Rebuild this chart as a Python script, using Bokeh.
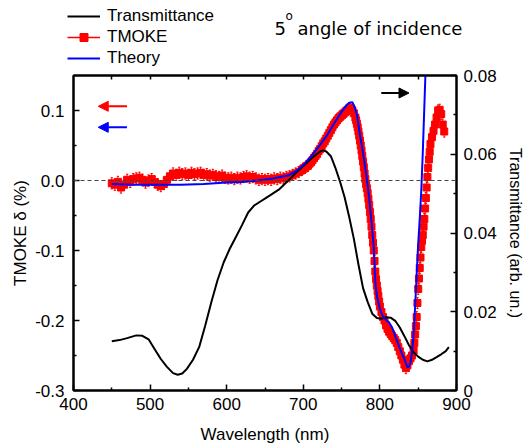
from bokeh.plotting import figure
from bokeh.layouts import column
from bokeh.models import (Range1d, LinearAxis, FixedTicker, Span, Arrow, NormalHead,
                          Label, Legend, LegendItem, ColumnDataSource)
from bokeh.embed import file_html
from bokeh.resources import INLINE

# ---------------- data ----------------
# TMOKE measurement: wavelength (nm) and delta (%), in segments
tm_wl_a = [450, 454, 458, 462, 466, 470, 474, 478, 482, 486,
           490, 494, 498, 502, 506, 510, 514, 518, 522, 526,
           530, 534, 538, 542, 546, 550, 554, 558, 562, 566,
           570, 574, 578, 582, 586, 590, 594, 598, 602, 606,
           610, 614, 618, 622, 626, 630, 634, 638, 642, 646,
           650, 654, 658, 662, 666, 670, 674, 678, 682, 686,
           690, 694, 698]
tm_val_a = [-0.004, -0.006, -0.002, -0.010, -0.006, 0.001, -0.002, 0.002, 0.003, 0.004,
            0.001, -0.003, 0.000, 0.002, -0.002, -0.006, -0.008, -0.005, 0.001, 0.006,
            0.010, 0.008, 0.011, 0.009, 0.010, 0.008, 0.011, 0.009, 0.010, 0.011,
            0.008, 0.009, 0.007, 0.008, 0.006, 0.005, 0.007, 0.004, 0.003, 0.004,
            0.002, 0.004, 0.003, 0.005, 0.006, 0.004, 0.005, 0.003, 0.001, 0.002,
            0.001, 0.002, 0.001, 0.003, 0.002, 0.004, 0.003, 0.005, 0.006, 0.008,
            0.010, 0.012, 0.015]
tm_wl_b = [700, 702, 704, 706, 708, 710, 712, 714, 716, 718,
           720, 722, 724, 726, 728, 730, 732, 734, 736, 738,
           740, 742, 744, 746, 748, 750, 752, 754, 756, 758,
           760, 762, 764, 766, 768]
tm_val_b = [0.017, 0.018, 0.020, 0.021, 0.024, 0.026, 0.029, 0.032, 0.035, 0.038,
            0.042, 0.045, 0.049, 0.053, 0.056, 0.060, 0.064, 0.068, 0.072, 0.076,
            0.080, 0.083, 0.086, 0.089, 0.091, 0.093, 0.095, 0.097, 0.099, 0.101,
            0.103, 0.103, 0.100, 0.096, 0.090]
tm_wl_c = [769, 770, 771, 772, 773, 774, 775, 776, 777, 778,
           779, 780, 781, 782, 783, 784, 785, 786, 787, 788,
           789, 790, 791, 792, 793, 794, 795, 796, 797, 798,
           799, 800]
tm_val_c = [0.086, 0.081, 0.076, 0.070, 0.064, 0.057, 0.050, 0.043, 0.035, 0.027,
            0.019, 0.010, 0.002, -0.005, -0.011, -0.018, -0.026, -0.035, -0.045, -0.055,
            -0.066, -0.078, -0.089, -0.100, -0.115, -0.130, -0.141, -0.150, -0.158, -0.165,
            -0.173, -0.180]
tm_wl_d = [802, 804, 806, 808, 810, 812, 814, 816, 818, 820,
           822, 824, 826, 828, 830, 832, 834, 836, 838, 840,
           842, 844]
tm_val_d = [-0.188, -0.195, -0.200, -0.207, -0.212, -0.216, -0.219, -0.222, -0.225, -0.228,
            -0.232, -0.238, -0.244, -0.250, -0.256, -0.263, -0.268, -0.264, -0.258, -0.254,
            -0.250, -0.243]
tm_wl_e = [845, 846, 847, 848, 849, 850, 851, 852, 853, 854,
           855, 856, 857, 858, 859, 860, 861, 862, 863, 864,
           865, 866]
tm_val_e = [-0.232, -0.220, -0.208, -0.195, -0.175, -0.155, -0.140, -0.125, -0.110, -0.095,
            -0.086, -0.078, -0.066, -0.055, -0.040, -0.025, -0.010, 0.005, 0.018, 0.030,
            0.041, 0.052]
tm_wl_f = [868, 870, 872, 874, 876, 878, 880, 882, 884]
tm_val_f = [0.062, 0.071, 0.080, 0.090, 0.100, 0.101, 0.095, 0.080, 0.070]
tmoke_err = 0.008

# Theory: wavelength (nm), delta (%)
theory_wl = [450, 480, 510, 540, 570, 600, 620, 640, 660, 680, 690, 700, 710, 720, 730, 740,
             750, 756, 760, 764, 767, 770, 774, 778, 782, 786, 790, 792, 794, 796, 800, 804,
             808, 812, 816, 820, 824, 828, 832, 836, 838, 840, 842, 844, 846, 848, 850, 852,
             854, 856, 858, 860, 862]
theory_val = [-0.005, -0.006, -0.006, -0.006, -0.005, -0.003, -0.002, 0.000, 0.003, 0.007,
              0.013, 0.022, 0.034, 0.048, 0.063, 0.081, 0.098, 0.107, 0.111, 0.112, 0.105,
              0.094, 0.065, 0.040, 0.010, -0.025, -0.070, -0.095, -0.145, -0.165, -0.183,
              -0.195, -0.199, -0.203, -0.210, -0.222, -0.234, -0.245, -0.255, -0.267, -0.266,
              -0.260, -0.245, -0.219, -0.180, -0.135, -0.090, -0.055, -0.015, 0.040, 0.105,
              0.170, 0.230]

# Transmittance: wavelength (nm), arb. un.
trans_wl = [450, 460, 470, 482, 490, 498, 506, 514, 522, 530, 536, 542, 548, 556, 564, 572,
            580, 588, 596, 604, 612, 620, 628, 636, 644, 652, 660, 668, 676, 684, 692, 700,
            708, 716, 722, 726, 730, 736, 742, 748, 754, 760, 766, 772, 778, 784, 790, 796,
            802, 808, 814, 820, 826, 832, 838, 844, 850, 856, 862, 868, 874, 880, 886, 890]
trans_val = [0.0125, 0.0128, 0.0133, 0.0140, 0.0139, 0.0130, 0.0105, 0.0080, 0.0060, 0.0044,
             0.0040, 0.0043, 0.0055, 0.0078, 0.0110, 0.0165, 0.0225, 0.0280, 0.0325, 0.0360,
             0.0390, 0.0420, 0.0452, 0.0470, 0.0480, 0.0490, 0.0500, 0.0510, 0.0525, 0.0540,
             0.0556, 0.0570, 0.0585, 0.0598, 0.0607, 0.0610, 0.0607, 0.0595, 0.0565, 0.0530,
             0.0490, 0.0440, 0.0385, 0.0320, 0.0260, 0.0225, 0.0195, 0.0184, 0.0182, 0.0186,
             0.0185, 0.0177, 0.0160, 0.0138, 0.0115, 0.0097, 0.0086, 0.0078, 0.0074, 0.0078,
             0.0085, 0.0092, 0.0100, 0.0110]

x_ticks = [400, 500, 600, 700, 800, 900]
x_minor = [450, 550, 650, 750, 850]
top_ticks = [450, 500, 550, 600, 650, 700, 750, 800, 850]
left_ticks = [-0.3, -0.2, -0.1, 0.0, 0.1]
left_labels = ["-0.3", "-0.2", "-0.1", "0.0", "0.1"]
left_minor = [-0.25, -0.15, -0.05, 0.05]
right_ticks = [0.0, 0.02, 0.04, 0.06, 0.08]
right_labels = ["0", "0.02", "0.04", "0.06", "0.08"]
right_minor = [0.01, 0.03, 0.05, 0.07]
legend_labels = ["Transmittance", "TMOKE", "Theory"]

tmoke_wl = tm_wl_a + tm_wl_b + tm_wl_c + tm_wl_d + tm_wl_e + tm_wl_f
tmoke_val = tm_val_a + tm_val_b + tm_val_c + tm_val_d + tm_val_e + tm_val_f
assert len(tmoke_wl) == len(tmoke_val)
assert len(theory_wl) == len(theory_val)
assert len(trans_wl) == len(trans_val)

FONT = "Liberation Sans"
TITLE_FONT = "DejaVu Sans"
RED = "#ff0000"
BLUE = "#0000ff"
NAN = [float("nan")]

# ---------------- header (legend + annotation text) ----------------
HEAD_H = 67
hdr = figure(width=526, height=HEAD_H, output_backend="svg", toolbar_location=None,
             x_range=Range1d(0, 526), y_range=Range1d(HEAD_H, 0),
             x_axis_type=None, y_axis_type=None,
             min_border_left=0, min_border_right=0, min_border_top=0, min_border_bottom=0)
hdr.frame_align = False
hdr.grid.visible = False
hdr.outline_line_color = None
hdr.background_fill_color = "white"
hdr.border_fill_color = "white"

h_T = hdr.line(NAN, NAN, line_color="black", line_width=2)
h_tm = hdr.line(NAN, NAN, line_color=RED, line_width=1.5)
h_sq = hdr.scatter(NAN, NAN, marker="square", size=8, fill_color=RED, line_color=RED)
h_th = hdr.line(NAN, NAN, line_color=BLUE, line_width=2)

legend = Legend(items=[LegendItem(label=legend_labels[0], renderers=[h_T]),
                       LegendItem(label=legend_labels[1], renderers=[h_tm, h_sq]),
                       LegendItem(label=legend_labels[2], renderers=[h_th])],
                location=(67, -1), orientation="vertical",
                glyph_width=33, glyph_height=20, label_height=20, spacing=1,
                padding=0, margin=0, label_standoff=7,
                label_text_font=FONT, label_text_font_size="17px",
                label_text_color="black",
                border_line_color=None, background_fill_alpha=0)
hdr.add_layout(legend)

hdr.add_layout(Label(x=274, y=28, text="5", text_font=TITLE_FONT, text_color="black",
                     text_font_size="18px", text_baseline="alphabetic"))
hdr.add_layout(Label(x=285, y=15, text="o", text_font=TITLE_FONT, text_color="black",
                     text_font_size="12px", text_baseline="alphabetic"))
hdr.add_layout(Label(x=297, y=28, text="angle of incidence", text_font=TITLE_FONT,
                     text_color="black", text_font_size="18px",
                     text_baseline="alphabetic"))

# ---------------- main figure ----------------
p = figure(width=526, height=447 - HEAD_H, output_backend="svg", toolbar_location=None,
           x_range=Range1d(400, 900), y_range=Range1d(-0.3, 0.15),
           min_border_left=73, min_border_right=66, min_border_top=75 - HEAD_H,
           min_border_bottom=57)
p.frame_align = False
p.extra_y_ranges = {"T": Range1d(0, 0.08)}
p.grid.visible = False
p.outline_line_color = "black"
p.outline_line_width = 2
p.background_fill_color = "white"
p.border_fill_color = "white"


def style(ax, major_in=6, minor_in=3):
    ax.axis_line_width = 2
    ax.axis_line_color = "black"
    ax.major_tick_in = major_in
    ax.major_tick_out = 0
    ax.minor_tick_in = minor_in
    ax.minor_tick_out = 0
    ax.major_tick_line_width = 1.5
    ax.minor_tick_line_width = 1.5
    ax.major_label_text_font = FONT
    ax.major_label_text_font_size = "17px"
    ax.major_label_text_color = "black"
    ax.axis_label_text_font = FONT
    ax.axis_label_text_font_size = "17px"
    ax.axis_label_text_font_style = "normal"
    ax.axis_label_text_color = "black"


xa = p.xaxis[0]
xa.ticker = FixedTicker(ticks=x_ticks, minor_ticks=x_minor)
xa.axis_label = "Wavelength (nm)"
style(xa)
xa.major_label_standoff = 7
xa.axis_label_standoff = 12

ya = p.yaxis[0]
ya.ticker = FixedTicker(ticks=left_ticks, minor_ticks=left_minor)
ya.major_label_overrides = {t: s for t, s in zip(left_ticks, left_labels)}
ya.axis_label = "TMOKE δ (%)"
style(ya)
ya.major_label_standoff = 9
ya.axis_label_standoff = 2

ra = LinearAxis(y_range_name="T")
ra.ticker = FixedTicker(ticks=right_ticks, minor_ticks=right_minor)
ra.major_label_overrides = {t: s for t, s in zip(right_ticks, right_labels)}
ra.axis_label = "Transmittance (arb. un.)"
style(ra)
ra.axis_label_text_font_size = "16px"
ra.major_label_standoff = 7
ra.axis_label_standoff = 7
p.add_layout(ra, "right")

ta = LinearAxis()
ta.ticker = FixedTicker(ticks=top_ticks, minor_ticks=[])
style(ta, major_in=4, minor_in=0)
ta.major_label_overrides = {t: "" for t in top_ticks}
ta.major_label_standoff = 0
p.add_layout(ta, "above")

# ---------------- glyphs ----------------
src = ColumnDataSource(dict(x=tmoke_wl, y=tmoke_val,
                            lo=[v - tmoke_err for v in tmoke_val],
                            hi=[v + tmoke_err for v in tmoke_val],
                            xl=[w - 1.5 for w in tmoke_wl],
                            xr=[w + 1.5 for w in tmoke_wl]))
p.segment(x0="x", y0="lo", x1="x", y1="hi", source=src, line_color=RED, line_width=1)
p.segment(x0="xl", y0="hi", x1="xr", y1="hi", source=src, line_color=RED, line_width=1)
p.segment(x0="xl", y0="lo", x1="xr", y1="lo", source=src, line_color=RED, line_width=1)
p.scatter("x", "y", source=src, marker="square", size=7, fill_color=RED, line_color=RED)

p.line(trans_wl, trans_val, y_range_name="T", line_color="black", line_width=2)
p.line(theory_wl, theory_val, line_color=BLUE, line_width=2)

p.add_layout(Span(location=0, dimension="width", line_color="#444444",
                  line_dash="4 3", line_width=1))

# arrows (data coordinates)
red_arrow = dict(x0=469.8, x1=432.3, y=0.106)
blue_arrow = dict(x0=469.8, x1=432.3, y=0.076)
black_arrow = dict(x0=801.8, x1=838.0, y=0.125)
for a, c in [(red_arrow, RED), (blue_arrow, BLUE), (black_arrow, "black")]:
    p.add_layout(Arrow(x_start=a["x0"], y_start=a["y"], x_end=a["x1"], y_end=a["y"],
                       line_color=c, line_width=2,
                       end=NormalHead(size=10, fill_color=c, line_color=c)))

layout = column(hdr, p, spacing=0)
open("out.html", "w").write(file_html(layout, INLINE))
